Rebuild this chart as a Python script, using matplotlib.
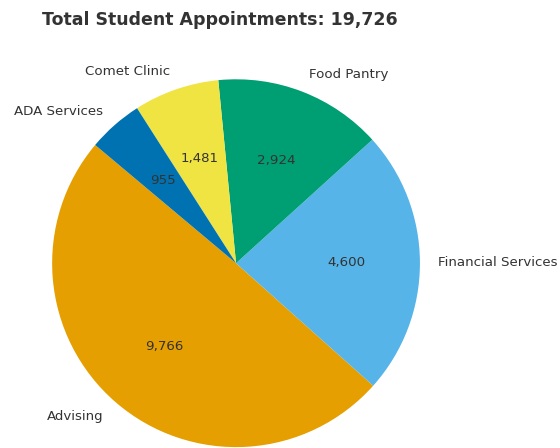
import matplotlib.pyplot as plt

services = ['Advising', 'Financial Services', 'Food Pantry', 'Comet Clinic', 'ADA Services']
appointments = [9766, 4600, 2924, 1481, 955]
colors = ['#E69F00', '#56B4E9', '#009E73', '#F0E442', '#0072B2']

total = sum(appointments)

fig = plt.figure(figsize=(5.6, 4.48), dpi=100)
ax = fig.add_axes([0.093, 0.002, 0.657, 0.821])

wedges, texts, autotexts = ax.pie(
    appointments, labels=services, colors=colors, startangle=140,
    autopct=lambda p: f'{p * total / 100:,.0f}', pctdistance=0.6,
    labeldistance=1.1, textprops={'fontsize': 9.6, 'color': '#333333'})

ax.set_xlim(-1, 1)
ax.set_ylim(-1, 1)
ax.set_aspect('equal')
fig.text(0.393, 0.955, f'Total Student Appointments: {total:,}',
         ha='center', va='center', fontsize=12.5, fontweight='bold', color='#333333')

fig.savefig('out.png', dpi=100)
